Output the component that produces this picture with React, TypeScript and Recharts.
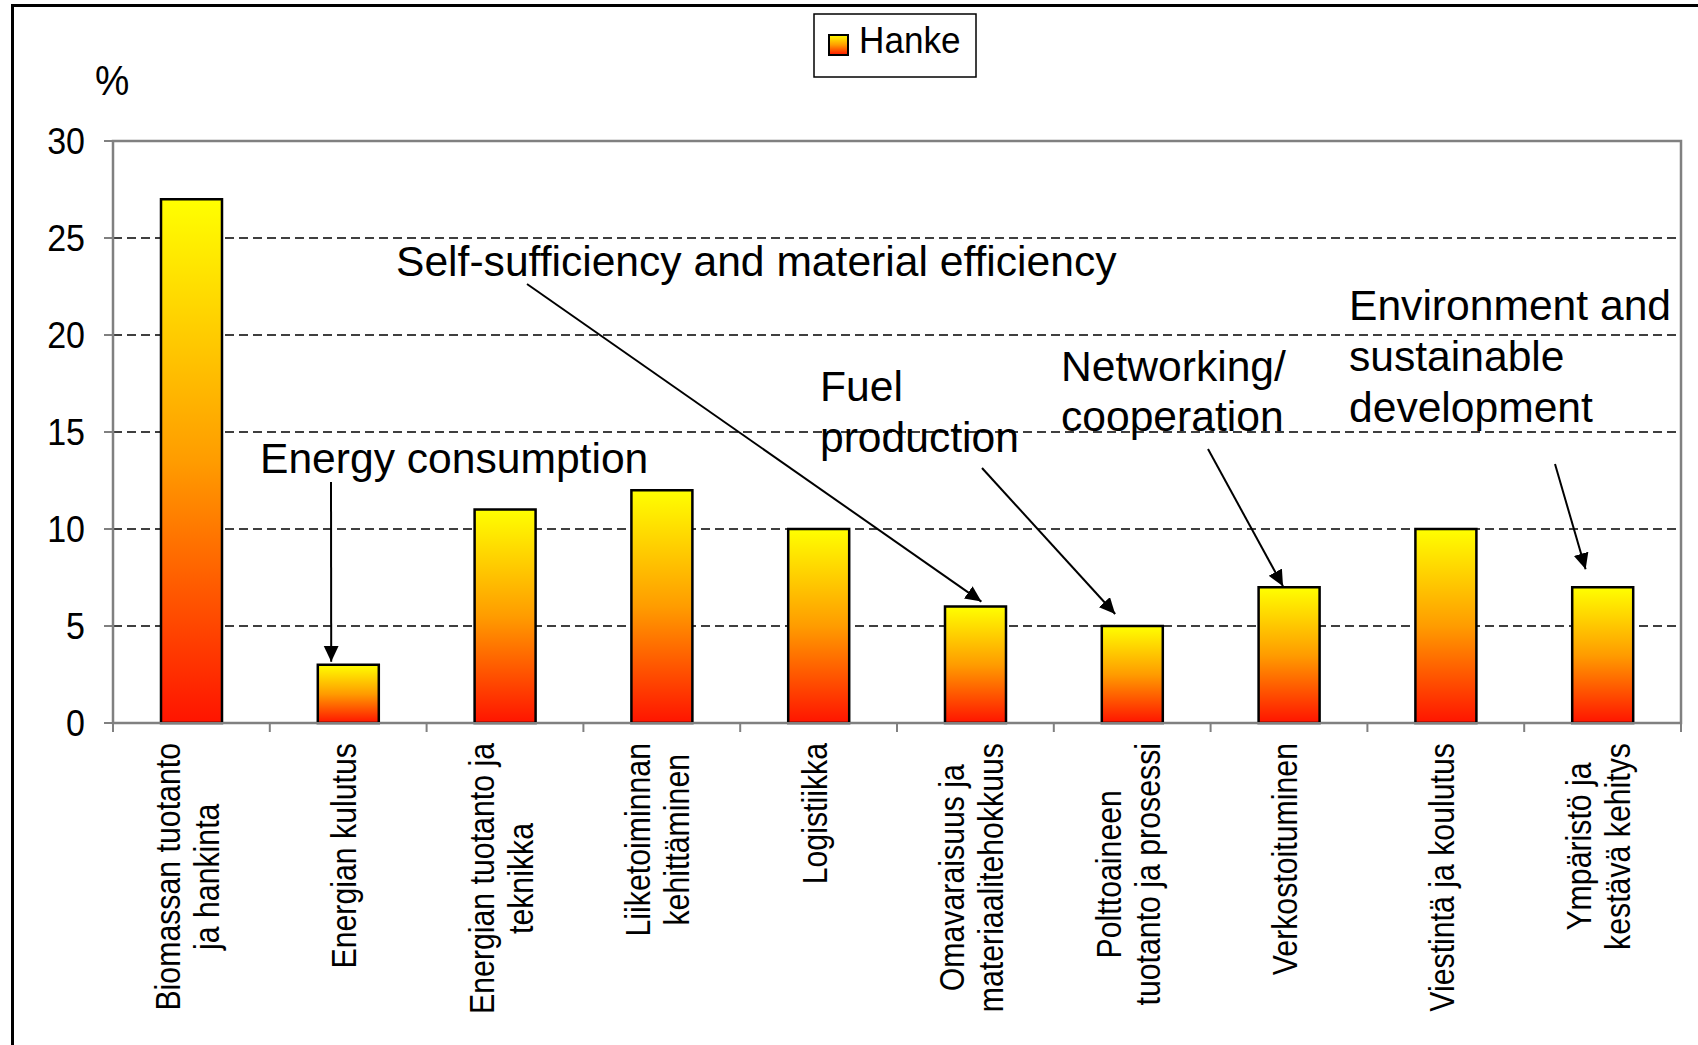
import React from 'react';
import { BarChart, Bar, XAxis, YAxis, CartesianGrid, ReferenceArea } from 'recharts';

// ---------- data ----------
const categories: string[] = [
  'Biomassan tuotanto\nja hankinta',
  'Energian kulutus',
  'Energian tuotanto ja\nteknikka',
  'Liiketoiminnan\nkehittäminen',
  'Logistiikka',
  'Omavaraisuus ja\nmateriaalitehokkuus',
  'Polttoaineen\ntuotanto ja prosessi',
  'Verkostoituminen',
  'Viestintä ja koulutus',
  'Ympäristö ja\nkestävä kehitys',
];
const hanke: number[] = [27, 3, 11, 12, 10, 6, 5, 7, 10, 7];
const yTicks: number[] = [0, 5, 10, 15, 20, 25, 30];
const gridValues: number[] = [5, 10, 15, 20, 25];
const seriesName = 'Hanke';
const unitLabel = '%';
const annotationTexts: string[][] = [
  ['Energy consumption'],
  ['Self-sufficiency and material efficiency'],
  ['Fuel', 'production'],
  ['Networking/', 'cooperation'],
  ['Environment and', 'sustainable', 'development'],
];
const annotationTargets: number[] = [1, 5, 6, 7, 9];

// ---------- layout ----------
const W = 1698;
const H = 1045;
const PLOT_L = 113;
const PLOT_R = 1681;
const PLOT_T = 141;
const PLOT_B = 723;
const Y_MAX = 30;
const BAND = (PLOT_R - PLOT_L) / categories.length;
const FONT = '"Liberation Sans", Arial, Helvetica, sans-serif';
const yPx = (v: number) => PLOT_B - (v * (PLOT_B - PLOT_T)) / Y_MAX;
const xPx = (i: number) => PLOT_L + (i + 0.5) * BAND;

// text x, first baseline y, line gap, arrow start, tip offset (dx from bar centre, gap above bar top)
const annotationLayout = [
  { tx: 260, ty: 473, gap: 51, sx: 331, sy: 482, dx: -17, dy: 3 },
  { tx: 396, ty: 276, gap: 51, sx: 527, sy: 284, dx: 6, dy: 5 },
  { tx: 820, ty: 401, gap: 51, sx: 982, sy: 468, dx: -17, dy: 12 },
  { tx: 1061, ty: 381, gap: 50, sx: 1208, sy: 449, dx: -6, dy: 1 },
  { tx: 1349, ty: 320, gap: 51, sx: 1555, sy: 464, dx: -17, dy: 18 },
];

const data = categories.map((c, i) => ({ name: c, value: hanke[i] }));

// ---------- text measurement ----------
let ctx: CanvasRenderingContext2D | null = null;
function measure(text: string, font: string): number {
  if (!ctx) {
    const c = document.createElement('canvas');
    ctx = c.getContext('2d');
  }
  if (!ctx) return text.length * 17;
  ctx.font = font;
  return ctx.measureText(text).width;
}

const X_FS = 35;
const X_SCALE = 0.865;
const X_LINE = 39;
const X_TOP = 743;

const XTick = (props: any) => {
  const { x, payload, index } = props;
  const lines: string[] = String(payload.value).split('\n');
  const maxW = Math.max(...lines.map((l) => measure(l, `${X_FS}px ${FONT}`))) * X_SCALE;
  const cy = X_TOP + maxW / 2;
  const bx = x + 8;
  const n = lines.length;
  return (
    <g>
      <line x1={x - BAND / 2} y1={PLOT_B} x2={x - BAND / 2} y2={PLOT_B + 9} stroke="#808080" strokeWidth={2} />
      {index === categories.length - 1 && (
        <line x1={x + BAND / 2} y1={PLOT_B} x2={x + BAND / 2} y2={PLOT_B + 9} stroke="#808080" strokeWidth={2} />
      )}
      <g transform={`translate(${bx},${cy}) rotate(-90) scale(${X_SCALE},1)`}>
        {lines.map((l, i) => (
          <text
            key={i}
            x={0}
            y={(i - (n - 1) / 2) * X_LINE}
            textAnchor="middle"
            fontSize={X_FS}
            fontFamily={FONT}
            fill="#000"
          >
            {l}
          </text>
        ))}
      </g>
    </g>
  );
};

const YTick = (props: any) => {
  const { x, y, payload } = props;
  return (
    <text
      transform={`translate(${x},${y}) scale(0.92,1)`}
      textAnchor="end"
      dy="0.36em"
      fontSize={37}
      fontFamily={FONT}
      fill="#000"
    >
      {payload.value}
    </text>
  );
};

export default function App() {
  return (
    <div style={{ position: 'absolute', left: 0, top: 0, width: W, height: H, overflow: 'hidden', background: '#fff' }}>
      <div
        style={{
          position: 'absolute',
          left: 11,
          top: 4,
          width: W + 20,
          height: H + 20,
          borderLeft: '3px solid #000',
          borderTop: '3px solid #000',
          boxSizing: 'border-box',
        }}
      />
      <div style={{ position: 'absolute', left: 0, top: 0 }}>
        <BarChart width={W} height={H} data={data} margin={{ top: PLOT_T, right: W - PLOT_R, left: 0, bottom: 0 }}>
          <defs>
            <linearGradient id="barGrad" x1="0" y1="0" x2="0" y2="1">
              <stop offset="0" stopColor="#FFFF00" />
              <stop offset="0.5" stopColor="#FF9C00" />
              <stop offset="1" stopColor="#FF1400" />
            </linearGradient>
          </defs>
          <CartesianGrid
            vertical={false}
            horizontalValues={gridValues}
            stroke="#000"
            strokeWidth={1.3}
            strokeDasharray="9 5"
          />
          <XAxis
            dataKey="name"
            interval={0}
            tickLine={false}
            axisLine={{ stroke: '#808080', strokeWidth: 2 }}
            height={H - PLOT_B}
            tick={<XTick />}
          />
          <YAxis
            width={PLOT_L}
            domain={[0, Y_MAX]}
            ticks={yTicks}
            interval={0}
            tickSize={9}
            tickMargin={19}
            axisLine={{ stroke: '#808080', strokeWidth: 2 }}
            tickLine={{ stroke: '#808080', strokeWidth: 2 }}
            tick={<YTick />}
          />
          <ReferenceArea y1={0} y2={Y_MAX} fill="none" fillOpacity={0} stroke="#808080" strokeWidth={2.5} />
          <Bar
            dataKey="value"
            name={seriesName}
            barSize={61}
            fill="url(#barGrad)"
            stroke="#000"
            strokeWidth={2.5}
            isAnimationActive={false}
          />
        </BarChart>
      </div>
      <svg width={W} height={H} style={{ position: 'absolute', left: 0, top: 0, pointerEvents: 'none' }}>
        <defs>
          <linearGradient id="legGrad" x1="0" y1="0" x2="0" y2="1">
            <stop offset="0" stopColor="#FFFF00" />
            <stop offset="0.5" stopColor="#FF9C00" />
            <stop offset="1" stopColor="#FF1400" />
          </linearGradient>
          <marker id="ah" markerUnits="userSpaceOnUse" markerWidth={17} markerHeight={16} refX={16} refY={7.5} orient="auto">
            <path d="M0,0 L16,7.5 L0,15 z" fill="#000" />
          </marker>
        </defs>
        {/* unit label */}
        <text transform="translate(95,95) scale(0.92,1)" fontSize={42} fontFamily={FONT} fill="#000">
          {unitLabel}
        </text>
        {/* legend */}
        <rect x={814} y={14} width={162} height={63} fill="#fff" stroke="#000" strokeWidth={1.5} />
        <rect x={829} y={35} width={19} height={20} fill="url(#legGrad)" stroke="#000" strokeWidth={2} />
        <text transform="translate(859,53) scale(0.95,1)" fontSize={37} fontFamily={FONT} fill="#000">
          {seriesName}
        </text>
        {/* annotations */}
        {annotationTexts.map((lines, k) => {
          const L = annotationLayout[k];
          const t = annotationTargets[k];
          const tipX = xPx(t) + L.dx;
          const tipY = yPx(hanke[t]) - L.dy;
          return (
            <g key={k}>
              {lines.map((l, i) => (
                <text key={i} x={L.tx} y={L.ty + i * L.gap} fontSize={42.6} fontFamily={FONT} fill="#000">
                  {l}
                </text>
              ))}
              <line x1={L.sx} y1={L.sy} x2={tipX} y2={tipY} stroke="#000" strokeWidth={2} markerEnd="url(#ah)" />
            </g>
          );
        })}
      </svg>
    </div>
  );
}
